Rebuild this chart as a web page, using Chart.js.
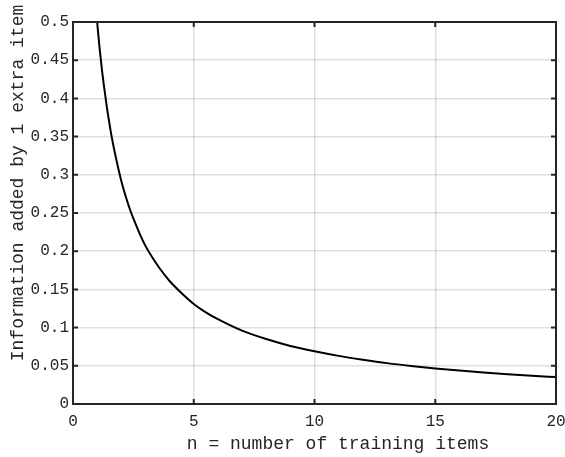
<!DOCTYPE html>
<html>
<head>
<meta charset="utf-8">
<script src="https://cdn.jsdelivr.net/npm/chart.js@4"></script>
<style>
  body { margin: 0; background: #fff; }
  #wrap { width: 565px; height: 457px; }
</style>
</head>
<body>
<div id="wrap"><canvas id="infoChart" width="565" height="457"></canvas></div>
<script>
// valores
const nItems = [1, 1.1, 1.2, 1.3, 1.4, 1.5, 1.6, 1.8, 2, 2.2, 2.4, 2.6, 2.8, 3, 3.3, 3.6, 4, 4.5, 5, 5.5, 6, 7, 8, 9, 10, 11, 12, 13, 14, 15, 16, 17, 18, 19, 20];
const infoAdded = [0.500, 0.466, 0.437, 0.412, 0.389, 0.369, 0.350, 0.319, 0.292, 0.270, 0.251, 0.235, 0.220, 0.207, 0.191, 0.177, 0.161, 0.145, 0.131, 0.120, 0.111, 0.096, 0.085, 0.076, 0.069, 0.063, 0.058, 0.0535, 0.0498, 0.0466, 0.0437, 0.0412, 0.039, 0.037, 0.0352];
const xTicks = [0, 5, 10, 15, 20];
const yTicks = [0, 0.05, 0.1, 0.15, 0.2, 0.25, 0.3, 0.35, 0.4, 0.45, 0.5];
const yTickLabels = ['0', '0.05', '0.1', '0.15', '0.2', '0.25', '0.3', '0.35', '0.4', '0.45', '0.5'];

const AXIS_COLOR = '#262626';
const FONT = "'Liberation Mono', 'DejaVu Sans Mono', monospace";

const boxPlugin = {
    id: 'boxPlugin',
    afterDraw(chart) {
        const ctx = chart.ctx;
        const a = chart.chartArea;
        const x = chart.scales.x;
        const y = chart.scales.y;
        ctx.save();
        ctx.strokeStyle = AXIS_COLOR;
        ctx.lineWidth = 2;
        ctx.strokeRect(a.left, a.top, a.right - a.left, a.bottom - a.top);

        // marcas internas
        const len = 5;
        ctx.beginPath();
        xTicks.forEach(v => {
            const px = x.getPixelForValue(v);
            ctx.moveTo(px, a.bottom); ctx.lineTo(px, a.bottom - len);
            ctx.moveTo(px, a.top); ctx.lineTo(px, a.top + len);
        });
        yTicks.forEach(v => {
            const py = y.getPixelForValue(v);
            ctx.moveTo(a.left, py); ctx.lineTo(a.left + len, py);
            ctx.moveTo(a.right, py); ctx.lineTo(a.right - len, py);
        });
        ctx.stroke();

        // títulos dos eixos
        ctx.fillStyle = AXIS_COLOR;
        ctx.font = '18px ' + FONT;
        ctx.textAlign = 'center';
        ctx.textBaseline = 'middle';
        ctx.fillText('n = number of training items', 338, 444);
        ctx.translate(18, 183);
        ctx.rotate(-Math.PI / 2);
        ctx.fillText('Information added by 1 extra item', 0, 0);
        ctx.restore();
    }
};

new Chart(document.getElementById('infoChart'), {
    type: 'line',
    data: {
        labels: nItems,
        datasets: [{
            data: nItems.map((n, i) => ({ x: n, y: infoAdded[i] })),
            borderColor: '#000',
            borderWidth: 2,
            pointRadius: 0,
            cubicInterpolationMode: 'monotone',
            fill: false
        }]
    },
    options: {
        responsive: false,
        animation: false,
        layout: { autoPadding: false, padding: { top: 22, right: 9, left: 0, bottom: 0 } },
        plugins: {
            legend: { display: false },
            tooltip: { enabled: false }
        },
        scales: {
            x: {
                type: 'linear',
                min: 0,
                max: 20,
                afterBuildTicks: s => { s.ticks = xTicks.map(v => ({ value: v })); },
                afterFit: s => { s.height = 53; s.paddingLeft = 0; s.paddingRight = 0; },
                grid: { color: 'rgba(38,38,38,0.15)', lineWidth: 1.5, drawTicks: false },
                border: { display: false },
                ticks: {
                    color: AXIS_COLOR,
                    font: { family: FONT, size: 16 },
                    padding: 8,
                    maxRotation: 0,
                    callback: v => String(v)
                }
            },
            y: {
                type: 'linear',
                min: 0,
                max: 0.5,
                afterBuildTicks: s => { s.ticks = yTicks.map(v => ({ value: v })); },
                afterFit: s => { s.width = 73; s.paddingTop = 0; s.paddingBottom = 0; },
                grid: { color: 'rgba(38,38,38,0.15)', lineWidth: 1.5, drawTicks: false },
                border: { display: false },
                ticks: {
                    color: AXIS_COLOR,
                    font: { family: FONT, size: 16 },
                    padding: 4,
                    callback: (v) => {
                        const i = yTicks.findIndex(t => Math.abs(t - v) < 1e-9);
                        return i >= 0 ? yTickLabels[i] : '';
                    }
                }
            }
        }
    },
    plugins: [boxPlugin]
});
</script>
</body>
</html>
